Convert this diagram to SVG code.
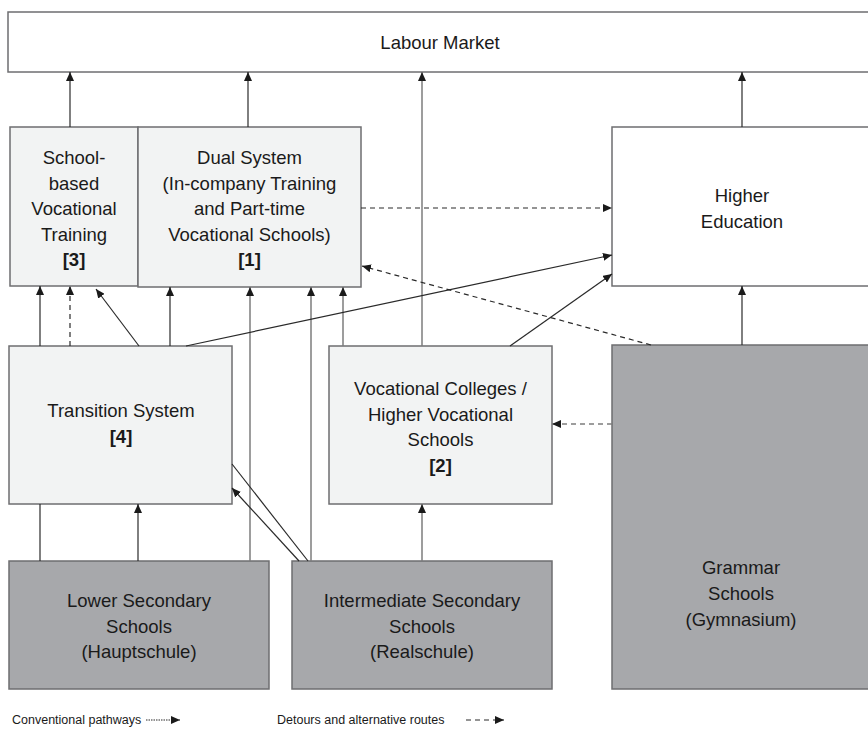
<svg xmlns="http://www.w3.org/2000/svg" width="868" height="731" viewBox="0 0 868 731">
<style>
.box{stroke:#6e6e70;stroke-width:1.5}
.w{fill:#ffffff}
.l{fill:#f2f3f3}
.d{fill:#a7a8ab}
text{font-family:"Liberation Sans",Arial,sans-serif;font-size:18.5px;fill:#1a1a1a;text-anchor:middle}
.b{font-weight:bold}
.lg{font-size:12.5px;text-anchor:start}
.k{stroke:#2a2a2a;stroke-width:1.2;fill:none}
.g{stroke:#7d7d7d;stroke-width:1.5;fill:none}
.dash{stroke-dasharray:5,4}
.dot{stroke-dasharray:1.5,1}
</style>
<defs>
<marker id="ak" markerUnits="userSpaceOnUse" markerWidth="9" markerHeight="8" refX="9" refY="4" orient="auto"><path d="M0,0 L9,4 L0,8 z" fill="#1a1a1a"/></marker>
</defs>
<rect width="868" height="731" fill="#ffffff"/>
<g id="labour"><rect class="box w" x="8" y="12" width="870" height="60"/><text x="440" y="49">Labour Market</text></g>
<g id="school"><rect class="box l" x="10" y="127" width="128" height="159"/>
<text x="74" y="164">School-</text><text x="74" y="189.5">based</text><text x="74" y="215">Vocational</text><text x="74" y="240.5">Training</text><text class="b" x="74" y="266">[3]</text></g>
<g id="dual"><rect class="box l" x="138" y="127" width="223" height="160"/>
<text x="249.5" y="164">Dual System</text><text x="249.5" y="189.5">(In-company Training</text><text x="249.5" y="215">and Part-time</text><text x="249.5" y="240.5">Vocational Schools)</text><text class="b" x="249.5" y="266">[1]</text></g>
<g id="higher"><rect class="box w" x="612" y="127" width="266" height="159"/>
<text x="742" y="202">Higher</text><text x="742" y="228">Education</text></g>
<g id="transition"><rect class="box l" x="9" y="346" width="223" height="158"/>
<text x="121" y="417">Transition System</text><text class="b" x="121" y="443">[4]</text></g>
<g id="vocational"><rect class="box l" x="329" y="346" width="223" height="158"/>
<text x="440.5" y="395">Vocational Colleges /</text><text x="440.5" y="420.5">Higher Vocational</text><text x="440.5" y="446">Schools</text><text class="b" x="440.5" y="471.5">[2]</text></g>
<g id="grammar"><rect class="box d" x="612" y="345" width="266" height="344"/>
<text x="741" y="574">Grammar</text><text x="741" y="600">Schools</text><text x="741" y="626">(Gymnasium)</text></g>
<g id="lower"><rect class="box d" x="9" y="561" width="260" height="128"/>
<text x="139" y="607">Lower Secondary</text><text x="139" y="632.5">Schools</text><text x="139" y="658">(Hauptschule)</text></g>
<g id="intermediate"><rect class="box d" x="292" y="561" width="260" height="128"/>
<text x="422" y="607">Intermediate Secondary</text><text x="422" y="632.5">Schools</text><text x="422" y="658">(Realschule)</text></g>
<g id="connectors">
<line class="k" x1="70" y1="127" x2="70" y2="72" marker-end="url(#ak)"/>
<line class="k" x1="248" y1="127" x2="248" y2="72" marker-end="url(#ak)"/>
<line class="g" x1="422" y1="346" x2="422" y2="72" marker-end="url(#ak)"/>
<line class="k" x1="742" y1="127" x2="742" y2="72" marker-end="url(#ak)"/>
<line class="k" x1="40" y1="346" x2="40" y2="286" marker-end="url(#ak)"/>
<line class="k dash" x1="70" y1="346" x2="70" y2="286" marker-end="url(#ak)"/>
<line class="k" x1="139" y1="346" x2="96" y2="289" marker-end="url(#ak)"/>
<line class="k" x1="170" y1="346" x2="170" y2="287" marker-end="url(#ak)"/>
<line class="g" x1="250" y1="561" x2="250" y2="287" marker-end="url(#ak)"/>
<line class="g" x1="311" y1="561" x2="311" y2="287" marker-end="url(#ak)"/>
<line class="g" x1="343" y1="346" x2="343" y2="287" marker-end="url(#ak)"/>
<line class="k" x1="186" y1="346" x2="612" y2="255" marker-end="url(#ak)"/>
<line class="k" x1="510" y1="346" x2="612" y2="274" marker-end="url(#ak)"/>
<line class="k dash" x1="361" y1="208" x2="612" y2="208" marker-end="url(#ak)"/>
<line class="k dash" x1="651" y1="345" x2="362" y2="266" marker-end="url(#ak)"/>
<line class="k" x1="742" y1="345" x2="742" y2="286" marker-end="url(#ak)"/>
<line class="g dash" x1="612" y1="424" x2="552" y2="424" marker-end="url(#ak)"/>
<line class="k" x1="40" y1="561" x2="40" y2="504"/>
<line class="k" x1="138" y1="561" x2="138" y2="504" marker-end="url(#ak)"/>
<line class="k" x1="299" y1="561" x2="232" y2="488" marker-end="url(#ak)"/>
<line class="k" x1="308" y1="561" x2="232" y2="464"/>
<line class="g" x1="422" y1="561" x2="422" y2="504" marker-end="url(#ak)"/>
</g>
<g id="legend">
<text class="lg" x="12" y="724">Conventional pathways</text>
<line class="k dot" x1="146" y1="720" x2="180" y2="720" stroke-width="1" marker-end="url(#ak)"/>
<text class="lg" x="277" y="724">Detours and alternative routes</text>
<line class="k dash" x1="466" y1="720" x2="504" y2="720" stroke-width="1.2" marker-end="url(#ak)"/>
</g>
</svg>
